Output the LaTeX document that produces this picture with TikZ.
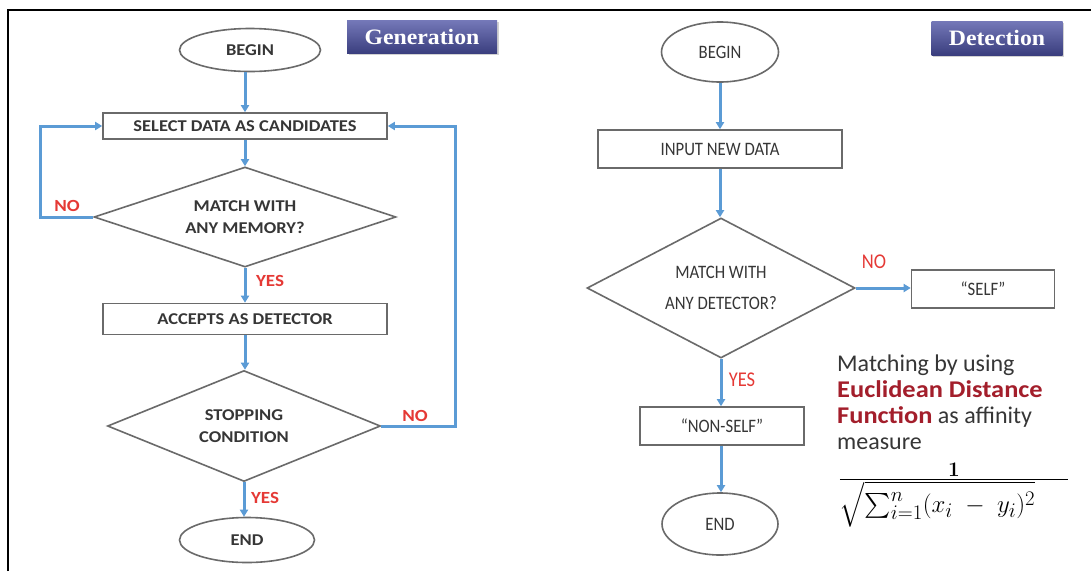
\documentclass[tikz,border=0pt]{standalone}
\usepackage{amsmath}
\usepackage{exscale}
\usepackage[no-math]{fontspec}
\setmainfont{Carlito}
\newfontfamily\widefont{Carlito}[FakeStretch=1.12]
\newfontfamily\condfont{Carlito}[FakeStretch=0.88]
\newfontfamily\notebold{Carlito}[FakeStretch=1.1]
\newfontfamily\tagfont{Liberation Serif}[FakeStretch=1.08]
\usetikzlibrary{shapes.geometric,arrows.meta,shadows}

\definecolor{flowblue}{HTML}{5B9BD5}
\definecolor{edgegray}{HTML}{6A6A6A}
\definecolor{txtgray}{HTML}{363636}
\definecolor{nored}{HTML}{E53935}
\definecolor{darkred}{HTML}{A31E2B}
\definecolor{tagtop}{HTML}{7478B8}
\definecolor{tagbot}{HTML}{3A3E7E}

\begin{document}
\begin{tikzpicture}[x=1pt,y=-1pt,
  term/.style={ellipse,draw=edgegray,line width=1.6pt,inner sep=0pt,fill=white},
  procbox/.style={rectangle,draw=edgegray,line width=1.6pt,inner sep=0pt,fill=white},
  decide/.style={diamond,draw=edgegray,line width=1.6pt,inner sep=0pt,align=center},
  flow/.style={draw=flowblue,line width=3pt,-{Triangle[length=7pt,width=8pt]}},
  genfont/.style={font=\widefont\fontsize{16.5}{21.5}\selectfont\bfseries,text=txtgray},
  detfont/.style={font=\condfont\fontsize{19}{31}\selectfont,text=txtgray},
  answer/.style={font=\widefont\fontsize{17}{19}\selectfont\bfseries,text=nored},
  detanswer/.style={font=\condfont\fontsize{21}{23}\selectfont,text=nored},
  tag/.style={rectangle,inner sep=0pt,top color=tagtop,bottom color=tagbot,
    drop shadow={shadow xshift=1.5pt,shadow yshift=-1.5pt,opacity=0.35},
    text=white,font=\tagfont\fontsize{22}{24}\selectfont\bfseries}
]
\useasboundingbox (0,0) rectangle (1091,571);
\fill[white] (0,0) rectangle (1091,571);

% outer frame
\coordinate (frameBL) at (8,571);
\coordinate (frameTL) at (8,10);
\coordinate (frameTR) at (1091,10);
\draw[line width=2.8pt,black] (frameBL) -- (frameTL) -- (frameTR);

% ---------- generation flow ----------
\node[tag,minimum width=150pt,minimum height=33pt] (gtag) at (422,37) {Generation};

\node[term,genfont,minimum width=141pt,minimum height=43pt] (gbegin) at (250,50) {BEGIN};
\node[procbox,genfont,minimum width=284pt,minimum height=26pt] (gsel) at (245,126) {SELECT DATA AS CANDIDATES};
\node[decide,genfont,minimum width=302pt,minimum height=100pt,aspect=3.02] (gmatch) at (245,217) {MATCH WITH\\ANY MEMORY?};
\node[procbox,genfont,minimum width=284pt,minimum height=31pt] (gacc) at (245,319) {ACCEPTS AS DETECTOR};
\node[decide,genfont,minimum width=273pt,minimum height=111pt,aspect=2.46] (gstop) at (244,426) {STOPPING\\CONDITION};
\node[term,genfont,minimum width=135pt,minimum height=45pt] (gend) at (247,540) {END};

\draw[flow] (gsel.north |- gbegin.south) -- (gsel.north);
\draw[flow] (gsel.south) -- (gsel.south |- gmatch.north);
\draw[flow] (gmatch.south) -- (gmatch.south |- gacc.north);
\draw[flow] (gacc.south) -- (gacc.south |- gstop.north);
\draw[flow] (gstop.south) -- (gstop.south |- gend.north);

\coordinate (gnoLeft) at (40,217);
\coordinate (gnoRight) at (455,426);
\draw[flow] (gmatch.west) -- (gnoLeft) |- (gsel.west);
\draw[flow] (gstop.east) -- (gnoRight) |- (gsel.east);

\node[answer] (gno1) at (67,206) {NO};
\node[answer] (gyes1) at (270,281) {YES};
\node[answer] (gno2) at (415,416) {NO};
\node[answer] (gyes2) at (265,498) {YES};

% ---------- detection flow ----------
\node[tag,minimum width=131pt,minimum height=34pt] (dtag) at (997,38) {Detection};

\node[term,detfont,minimum width=117pt,minimum height=60pt] (dbegin) at (720,52) {BEGIN};
\node[procbox,detfont,minimum width=244pt,minimum height=38pt] (dinput) at (720,149) {INPUT NEW DATA};
\node[decide,detfont,minimum width=268pt,minimum height=140pt,aspect=1.91] (dmatch) at (721,288) {MATCH WITH\\ANY DETECTOR?};
\node[procbox,detfont,minimum width=143pt,minimum height=38pt] (dself) at (983,289) {“SELF”};
\node[procbox,detfont,minimum width=164pt,minimum height=38pt] (dnonself) at (722,426) {“NON-SELF”};
\node[term,detfont,minimum width=116pt,minimum height=62pt] (dend) at (720,524) {END};

\draw[flow] (dinput.north |- dbegin.south) -- (dinput.north);
\draw[flow] (dinput.south) -- (dinput.south |- dmatch.north);
\draw[flow] (dmatch.east) -- (dmatch.east -| dself.west);
\draw[flow] (dmatch.south) -- (dmatch.south |- dnonself.north);
\draw[flow] (dmatch.south |- dnonself.south) -- (dmatch.south |- dend.north);

\node[detanswer] (dno) at (874,262) {NO};
\node[detanswer] (dyes) at (742,380) {YES};

% affinity note and formula
\node[anchor=north west,align=left,inner sep=0pt,text=txtgray,
      font=\fontsize{24}{26}\selectfont] (note) at (837,355)
  {Matching by using\\
   {\color{darkred}\notebold\bfseries Euclidean Distance}\\
   {\color{darkred}\notebold\bfseries Function} as affinity\\
   measure};
\node[inner sep=0pt,text=black,font=\fontsize{32}{36}\selectfont] (formula) at (954,495)
  {$\frac{\mathbf{1}}{\textstyle\sqrt{\sum_{i=1}^{n}(x_i \;-\; y_i)^2}\hspace{33pt}}$};
\end{tikzpicture}
\end{document}
